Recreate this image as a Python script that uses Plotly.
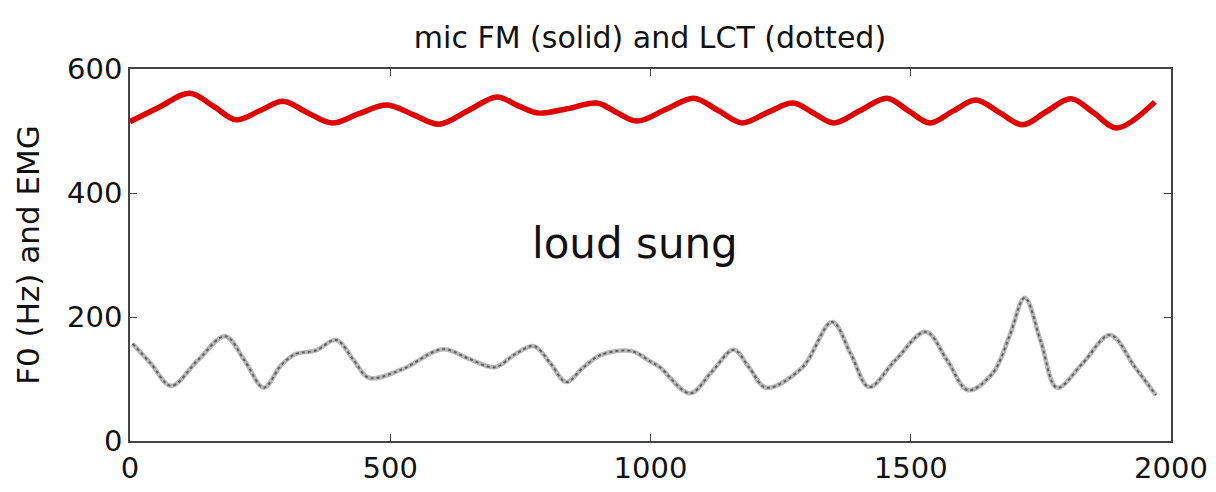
import plotly.graph_objects as go

# F0 from microphone (solid red)
fm_x = [0, 55, 115, 160, 204, 250, 294, 340, 388, 440, 494, 545, 594, 650, 705, 745, 784, 840, 897, 935,
        974, 1030, 1083, 1130, 1176, 1225, 1274, 1313, 1352, 1403, 1454, 1495, 1537, 1581, 1625, 1670,
        1715, 1760, 1808, 1852, 1896, 1969]
fm_y = [515, 538, 561, 540, 518, 533, 548, 530, 513, 528, 542, 526, 511, 533, 555, 541, 529, 536, 545, 530,
        516, 535, 553, 533, 513, 530, 545, 529, 513, 533, 553, 533, 513, 532, 550, 530,
        510, 531, 552, 529, 505, 547]

# LCT EMG (dotted grey)
lct_x = [5, 40, 79, 130, 183, 220, 257, 290, 317, 357, 396, 430, 459, 521, 601, 650, 701, 740, 776, 808,
         838, 870, 905, 964, 1000, 1018, 1076, 1118, 1160, 1190, 1222, 1291, 1349, 1385, 1420, 1470,
         1529, 1570, 1610, 1658, 1690, 1719, 1750, 1781, 1830, 1883, 1930, 1971]
lct_y = [157, 125, 89, 130, 169, 130, 86, 122, 140, 146, 163, 130, 102, 115, 148, 133, 119, 140, 153, 125,
         95, 118, 139, 145, 128, 119, 77, 112, 147, 118, 86, 118, 192, 140, 87, 130,
         176, 130, 82, 110, 170, 231, 160, 86, 125, 171, 120, 74]

x_ticks = [0, 500, 1000, 1500, 2000]
y_ticks = [0, 200, 400, 600]

title_text = "mic FM (solid) and LCT (dotted)"
y_title = "F0 (Hz) and EMG"
note_text = "loud sung"

FONT = "DejaVu Sans"

fig = go.Figure()
fig.add_trace(go.Scatter(x=fm_x, y=fm_y, mode="lines",
                         line=dict(color="#e00000", width=5.5, shape="spline", smoothing=1.0),
                         showlegend=False, hoverinfo="skip"))
fig.add_trace(go.Scatter(x=lct_x, y=lct_y, mode="lines",
                         line=dict(color="#b8b8b8", width=4.5, shape="spline", smoothing=1.0),
                         showlegend=False, hoverinfo="skip"))
fig.add_trace(go.Scatter(x=lct_x, y=lct_y, mode="lines",
                         line=dict(color="#606060", width=2, shape="spline", smoothing=1.0, dash="dot"),
                         showlegend=False, hoverinfo="skip"))

fig.add_annotation(x=970, y=318, text=note_text, showarrow=False,
                   font=dict(family=FONT, size=42, color="#111"),
                   xanchor="center", yanchor="middle")

axis_common = dict(showline=True, linecolor="#444", linewidth=1.5, mirror="ticks",
                   ticks="inside", ticklen=7, tickwidth=1.2, tickcolor="#444",
                   showgrid=False, zeroline=False,
                   tickfont=dict(family=FONT, size=29, color="#111"))

fig.update_xaxes(range=[0, 2000], tickvals=x_ticks, ticktext=[str(v) for v in x_ticks], **axis_common)
fig.update_yaxes(range=[0, 600], tickvals=y_ticks, ticktext=[str(v) for v in y_ticks],
                 title=dict(text=y_title, font=dict(family=FONT, size=31, color="#111"), standoff=18),
                 **axis_common)

fig.update_layout(
    width=1216, height=492,
    margin=dict(l=130, r=45, t=69, b=51, autoexpand=False),
    paper_bgcolor="white", plot_bgcolor="white",
    title=dict(text=title_text, x=0.4995, xanchor="center", y=1 - 37 / 492, yanchor="middle",
               xref="paper", yref="container",
               font=dict(family=FONT, size=30, color="#111")),
)

fig.write_html("out.html")
